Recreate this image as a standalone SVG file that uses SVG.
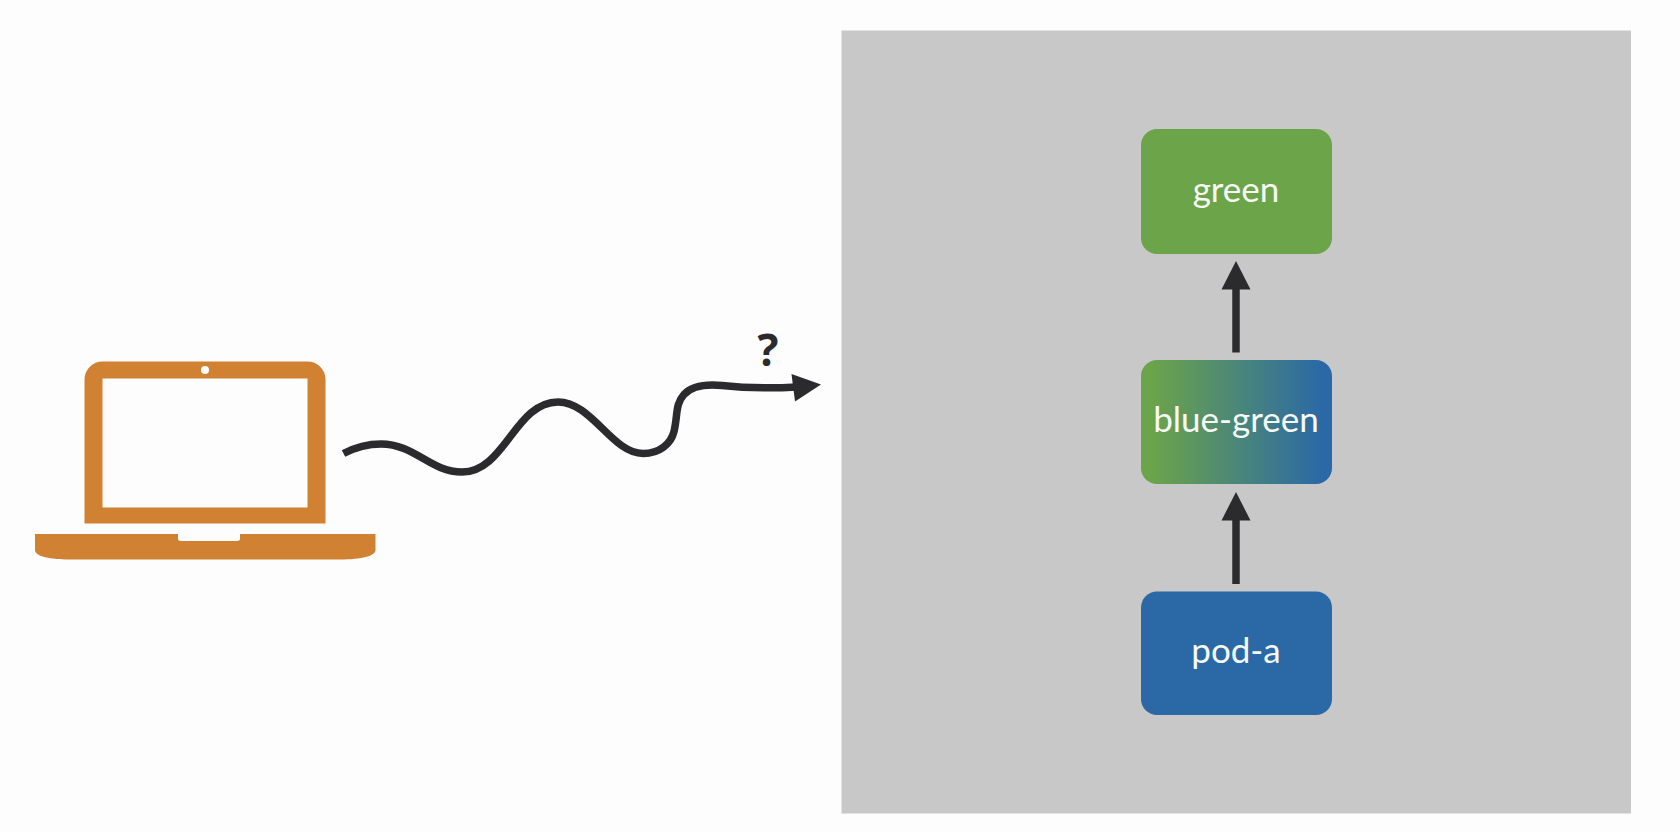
<svg xmlns="http://www.w3.org/2000/svg" width="1680" height="832" viewBox="0 0 1680 832">
<style>
.node{stroke:none}
.lbl{font-family:"Lato","Noto Sans",sans-serif;font-size:35px;fill:#f7f9f5;text-anchor:middle}
.line{fill:none;stroke:#2b2b2d;stroke-width:7.500}
.head{fill:#2b2b2d}
</style>
<defs>
<linearGradient id="bg" x1="0" y1="0" x2="1" y2="0"><stop offset="0.05" stop-color="#6ca44a"/><stop offset="0.95" stop-color="#2a69a6"/></linearGradient>
</defs>
<rect width="1680" height="832" fill="#fdfdfd"/>
<rect id="panel" x="841.500" y="30.500" width="789.500" height="783" fill="#c8c8c8"/>
<g id="laptop">
<path fill="#d08232" fill-rule="evenodd" d="M84.500 523.500V379.500A18 18 0 0 1 102.500 361.500H307.500A18 18 0 0 1 325.500 379.500V523.500ZM102.500 378.500V507.500H307.500V378.500Z"/>
<circle cx="205" cy="370" r="4" fill="#fdfdfd"/>
<path fill="#d08232" d="M35 534H178V538.500Q178 541 181 541H237Q240 541 240 538.500V534H375.500V550C375.500 556 362 559.500 340 559.500H70C48 559.500 35 556 35 550Z"/>
</g>
<g id="node-green"><rect class="node" x="1141" y="129" width="191" height="125" rx="16" fill="#6ca44a"/><text class="lbl" x="1236" y="201.500">green</text></g>
<g id="node-blue-green"><rect class="node" x="1141" y="360" width="191" height="124" rx="16" fill="url(#bg)"/><text class="lbl" x="1236" y="431.500">blue-green</text></g>
<g id="node-pod-a"><rect class="node" x="1141" y="591.500" width="191" height="123.500" rx="16" fill="#2a69a6"/><text class="lbl" x="1236" y="662.500">pod-a</text></g>
<g id="connectors">
<path class="line" d="M343.500 453.500C356 447 368 444 381 444C415 444 430 472 462 472C505 472 515 402 558 402C592 402 612 453.500 643 453.500C660 453.500 671 443.500 674 431.500C678 414.500 675 404.500 684 394.500C692 385.500 706 384 722 385.500C745 388 770 388.500 797 387"/>
<path class="head" d="M791.500 374L821 384.500L795 401.500Z"/>
<path class="line" d="M1236 352.500V288"/>
<path class="head" d="M1236 261L1250.500 289.500H1221.500Z"/>
<path class="line" d="M1236 584V519"/>
<path class="head" d="M1236 492L1250.500 520.500H1221.500Z"/>
</g>
<text id="question" x="768" y="366" style="font-family:'Open Sans',sans-serif;font-size:44px;font-weight:700;fill:#2b2b2d;text-anchor:middle">?</text>
</svg>
